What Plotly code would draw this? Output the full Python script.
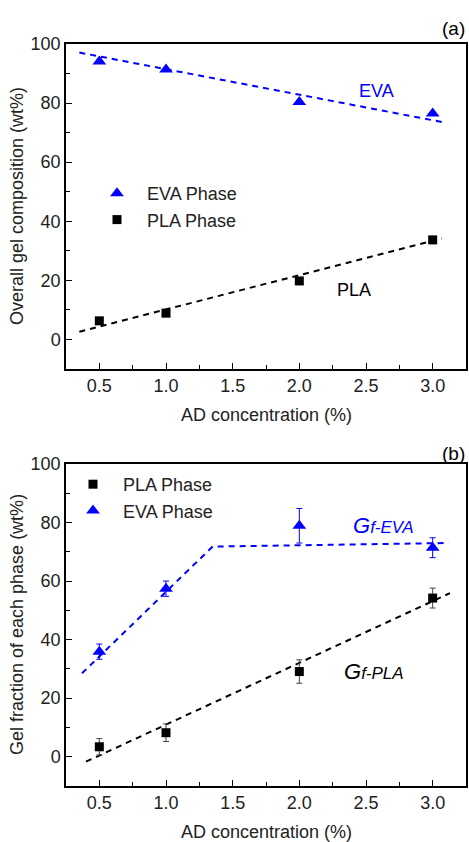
import plotly.graph_objects as go

# ---------------- data ----------------
ad_conc = [0.5, 1.0, 2.0, 3.0]

# panel (a): overall gel composition
eva_overall = [94.1, 91.4, 80.4, 76.5]
pla_overall = [6.3, 8.9, 19.8, 33.7]
fit_a_x = [0.35, 3.07]
fit_a_eva = [97.1, 73.6]
fit_a_pla = [2.6, 34.2]

# panel (b): gel fraction of each phase
pla_gel = [3.4, 8.2, 29.1, 54.2]
pla_err = [2.8, 3.0, 4.0, 3.4]
eva_gel = [35.9, 57.4, 78.9, 71.4]
eva_err = [2.6, 2.6, 5.9, 3.4]
fit_b_eva_x = [0.37, 1.35, 3.12]
fit_b_eva_y = [28.5, 71.8, 73.0]
fit_b_pla_x = [0.40, 3.13]
fit_b_pla_y = [-1.7, 55.9]

x_ticks = [0.5, 1.0, 1.5, 2.0, 2.5, 3.0]
x_ticklabels = ["0.5", "1.0", "1.5", "2.0", "2.5", "3.0"]
y_ticks = [0, 20, 40, 60, 80, 100]
y_ticklabels = ["0", "20", "40", "60", "80", "100"]

BLUE = "#0000FF"
BLACK = "#000000"
FONT = "Liberation Sans, Arial, sans-serif"
W, H = 469, 842
SP = "&nbsp;&nbsp;"

def px_x(p):
    return p / W

def px_y(p):
    return 1 - p / H

fig = go.Figure()

# ----- panel (a) -----
fig.add_trace(go.Scatter(x=fit_a_x, y=fit_a_eva, mode="lines", showlegend=False,
                         line=dict(color=BLUE, width=2, dash="6px,5px"), xaxis="x", yaxis="y"))
fig.add_trace(go.Scatter(x=fit_a_x, y=fit_a_pla, mode="lines", showlegend=False,
                         line=dict(color=BLACK, width=2, dash="6px,5px"), xaxis="x", yaxis="y"))
fig.add_trace(go.Scatter(x=ad_conc, y=eva_overall, mode="markers", name=SP + "EVA Phase",
                         marker=dict(symbol="triangle-up", size=12, color=BLUE),
                         xaxis="x", yaxis="y", legend="legend"))
fig.add_trace(go.Scatter(x=ad_conc, y=pla_overall, mode="markers", name=SP + "PLA Phase",
                         marker=dict(symbol="square", size=9, color=BLACK),
                         xaxis="x", yaxis="y", legend="legend"))

# ----- panel (b) -----
fig.add_trace(go.Scatter(x=fit_b_eva_x, y=fit_b_eva_y, mode="lines", showlegend=False,
                         line=dict(color=BLUE, width=2, dash="6px,5px"), xaxis="x2", yaxis="y2"))
fig.add_trace(go.Scatter(x=fit_b_pla_x, y=fit_b_pla_y, mode="lines", showlegend=False,
                         line=dict(color=BLACK, width=2, dash="6px,5px"), xaxis="x2", yaxis="y2"))
fig.add_trace(go.Scatter(x=ad_conc, y=pla_gel, mode="markers", name=SP + "PLA Phase",
                         marker=dict(symbol="square", size=9, color=BLACK),
                         error_y=dict(type="data", array=pla_err, color="#444444", thickness=1, width=3),
                         xaxis="x2", yaxis="y2", legend="legend2"))
fig.add_trace(go.Scatter(x=ad_conc, y=eva_gel, mode="markers", name=SP + "EVA Phase",
                         marker=dict(symbol="triangle-up", size=12, color=BLUE),
                         error_y=dict(type="data", array=eva_err, color=BLUE, thickness=1, width=3),
                         xaxis="x2", yaxis="y2", legend="legend2"))

axis_common = dict(showgrid=False, zeroline=False, showline=True, linecolor=BLACK, linewidth=1.5,
                   mirror=True, ticks="inside", ticklen=6, tickwidth=1.2, tickcolor=BLACK,
                   automargin=False,
                   tickfont=dict(family=FONT, size=18, color="#222222"))
xa = dict(axis_common, range=[0.25, 3.25], tickvals=x_ticks, ticktext=x_ticklabels,
          minor=dict(ticks="inside", ticklen=4, tickwidth=1.2, dtick=0.25, tick0=0, tickcolor=BLACK))
ya = dict(axis_common, range=[-10, 100], tickvals=y_ticks, ticktext=y_ticklabels,
          minor=dict(ticks="inside", ticklen=4, tickwidth=1.2, dtick=10, tick0=0, tickcolor=BLACK))

top_dom = [px_y(369), px_y(44)]
bot_dom = [px_y(786), px_y(464)]
xdom = [px_x(66), px_x(466)]

def pann(text, x, y, size=18, color="#222222", angle=0):
    return dict(text=text, x=px_x(x), y=px_y(y), xref="paper", yref="paper", showarrow=False,
                xanchor="center", yanchor="middle", textangle=angle,
                font=dict(family=FONT, size=size, color=color))

annotations = [
    pann("(a)", 453, 28, size=19, color=BLACK),
    pann("(b)", 453, 453, size=19, color=BLACK),
    pann("AD concentration (%)", 266, 415),
    pann("AD concentration (%)", 266, 832),
    pann("Overall gel composition (wt%)", 17, 206, angle=-90),
    pann("Gel fraction of each phase (wt%)", 17, 625, angle=-90),
    dict(text="EVA", x=2.58, y=84.1, xref="x", yref="y", showarrow=False,
         font=dict(family=FONT, size=18, color=BLUE)),
    dict(text="PLA", x=2.41, y=16.6, xref="x", yref="y", showarrow=False,
         font=dict(family=FONT, size=18, color=BLACK)),
    dict(text="<i>G<span style='font-size:17px'>f-EVA</span></i>", x=2.63, y=79.0, xref="x2", yref="y2",
         showarrow=False, font=dict(family=FONT, size=22, color=BLUE)),
    dict(text="<i>G<span style='font-size:17px'>f-PLA</span></i>", x=2.56, y=29.0, xref="x2", yref="y2",
         showarrow=False, font=dict(family=FONT, size=22, color=BLACK)),
]

fig.update_layout(
    width=W, height=H,
    margin=dict(l=0, r=0, t=0, b=0, autoexpand=False),
    paper_bgcolor="white", plot_bgcolor="white",
    xaxis=dict(xa, domain=xdom, anchor="y"),
    yaxis=dict(ya, domain=top_dom, anchor="x"),
    xaxis2=dict(xa, domain=xdom, anchor="y2"),
    yaxis2=dict(ya, domain=bot_dom, anchor="x2"),
    legend=dict(x=px_x(97), y=px_y(175), xanchor="left", yanchor="top", bgcolor="rgba(0,0,0,0)",
                font=dict(family=FONT, size=18, color="#222222"), tracegroupgap=0, itemwidth=30),
    legend2=dict(x=px_x(73), y=px_y(466), xanchor="left", yanchor="top", bgcolor="rgba(0,0,0,0)",
                 font=dict(family=FONT, size=18, color="#222222"), tracegroupgap=0, itemwidth=30),
    annotations=annotations,
)

fig.write_html("out.html", config={"displayModeBar": False},
               post_script="document.body.style.margin='0';document.body.style.overflow='hidden';")
